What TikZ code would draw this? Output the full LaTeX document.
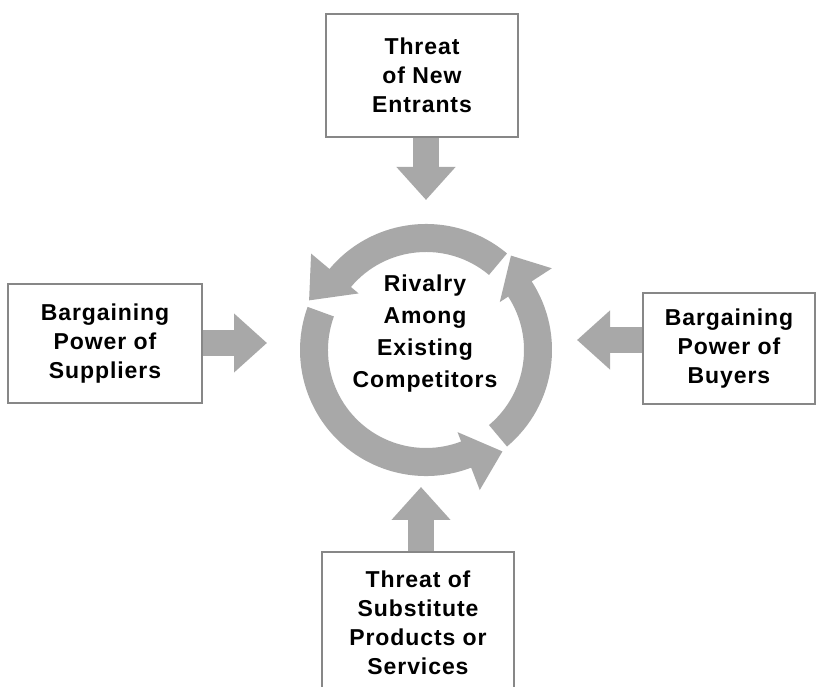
\documentclass[tikz,border=0pt]{standalone}
\usepackage{fontspec}
\setmainfont{Liberation Sans}[LetterSpace=4]
\usetikzlibrary{arrows.meta}
\definecolor{ringgray}{RGB}{168,168,168}
\definecolor{boxgray}{RGB}{135,135,135}
\newcommand\ringarrowpiece[3]{%
  \fill[ringgray] (#1:98pt) arc[start angle=#1, end angle=#2, radius=98pt]
    -- (#2:88pt) -- (#3:127pt) -- (#2:150pt) -- (#2:126pt)
    arc[start angle=#2, end angle=#1, radius=126pt] -- cycle;}
\begin{document}
\begin{tikzpicture}[x=1pt,y=1pt,
  boxnode/.style={draw=boxgray, line width=1.8pt, align=center,
    font=\bfseries\fontsize{23}{29}\selectfont, inner sep=0pt},
  centertext/.style={align=center, font=\bfseries\fontsize{23}{32}\selectfont, inner sep=0pt},
  blockarrow/.style={draw=ringgray, line width=26pt, line cap=butt,
    -{Triangle[width=57pt,length=33pt]}}]
\useasboundingbox (0,0) rectangle (822,687);
\fill[white] (0,0) rectangle (822,687);
\clip (0,0) rectangle (822,687);

% ring of rivalry arrows
\begin{scope}[shift={(426,337)}]
  \ringarrowpiece{50}{140}{157}
  \ringarrowpiece{160}{291}{307}
  \ringarrowpiece{310}{393}{408}
\end{scope}

% boxes
\node[boxnode, minimum width=192pt, minimum height=123pt] (entrants) at (422,611.5) {Threat\\of New\\Entrants};
\node[boxnode, minimum width=194pt, minimum height=119pt] (suppliers) at (105,343.5) {Bargaining\\Power of\\Suppliers};
\node[boxnode, minimum width=172pt, minimum height=111pt] (buyers) at (729,338.5) {Bargaining\\Power of\\Buyers};
\node[boxnode, minimum width=192pt, minimum height=142pt] (substitutes) at (418,64) {Threat of\\Substitute\\Products or\\Services};
\node[centertext] (rivalry) at (425,353.5) {Rivalry\\Among\\Existing\\Competitors};

% block arrows toward the rivalry ring
\coordinate (ttip) at (426,487);
\coordinate (ltip) at (267,344);
\coordinate (rtip) at (577,347);
\coordinate (btip) at (421,200);
\draw[blockarrow] (ttip |- entrants.south) -- (ttip);
\draw[blockarrow] (suppliers.east |- ltip) -- (ltip);
\draw[blockarrow] (buyers.west |- rtip) -- (rtip);
\draw[blockarrow] (btip |- substitutes.north) -- (btip);
\end{tikzpicture}
\end{document}
